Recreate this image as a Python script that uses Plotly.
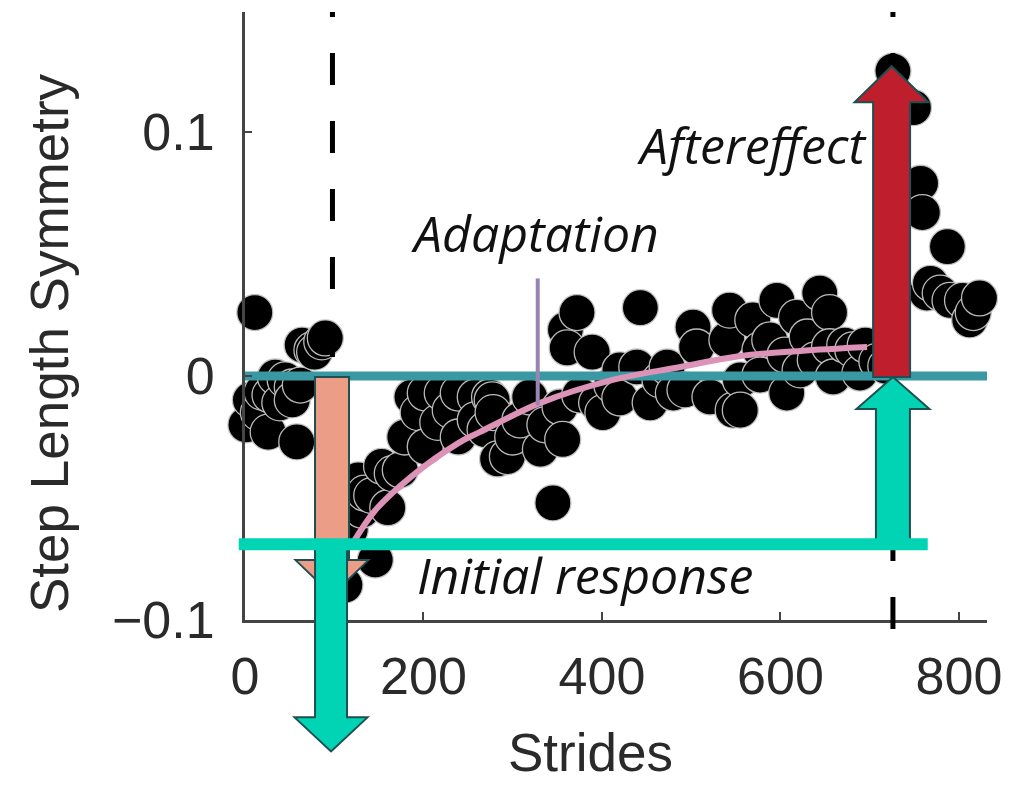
import plotly.graph_objects as go

# ---------------- data ----------------
baseline_strides = [1, 6, 11, 15, 19, 26, 28, 34, 39, 45, 53, 53, 58, 62, 64, 75, 78, 86, 90]
baseline_sym = [-0.020, -0.0098, 0.026, -0.015, -0.0066, -0.023, -0.0078, -0.0004, -0.011, -0.0016,
                -0.0045, -0.0098, -0.027, -0.0037, 0.0127, 0.0107, 0.0098, 0.014, 0.0156]

adapt_strides = [112, 118, 127, 131, 134, 142, 146, 153, 160, 165, 174, 179, 187, 194, 202, 202, 216, 221,
                 230, 239, 239, 258, 258, 269, 274, 277, 278, 283, 294, 300, 308, 319, 331, 336, 345, 353,
                 356, 359, 361, 372, 375, 389, 394, 401, 411, 420, 420, 439, 443, 454, 465, 473, 480, 493,
                 502, 506, 521, 540, 543, 547, 555, 555, 569, 577, 577, 588, 596, 605, 607, 618, 622, 630,
                 639, 644, 655, 655, 659, 672, 681, 689, 695, 708, 718]
adapt_sym = [-0.0857, -0.063, -0.0426, -0.055, -0.048, -0.049, -0.0754, -0.037, -0.054, -0.040, -0.0385,
             -0.025, -0.0086, -0.015, -0.007, -0.029, -0.019, -0.007, -0.014, -0.007, -0.025, -0.0086,
             -0.018, -0.022, -0.0086, -0.0098, -0.015, -0.034, -0.033, -0.025, -0.018, -0.0086, -0.030,
             -0.020, -0.052, -0.0127, -0.026, 0.019, 0.0115, 0.026, -0.0078, 0.0098, -0.011, -0.015,
             -0.0037, 0.0025, -0.009, 0.0037, 0.028, -0.011, -0.0016, 0.0037, -0.007, -0.0057, 0.020,
             0.0119, -0.0086, 0.0148, 0.027, -0.014, -0.0016, -0.014, 0.023, 0.0107, 0.0004, 0.0148,
             0.031, 0.0086, -0.007, 0.024, 0.0025, 0.016, 0.0066, 0.034, 0.026, 0.012, -0.0004, 0.0127,
             0.0107, 0.0012, 0.0127, 0.006, 0.004]

post_strides = [726, 749, 757, 759, 764, 768, 779, 787, 790, 804, 812, 816, 823]
post_sym = [0.125, 0.110, 0.079, 0.067, 0.034, 0.038, 0.034, 0.053, 0.031, 0.031, 0.023, 0.026, 0.032]

fit_strides = [120, 146, 187, 239, 263, 331, 412, 488, 555, 622, 697]
fit_sym = [-0.069, -0.055, -0.041, -0.0275, -0.023, -0.011, -0.0016, 0.0037, 0.0082, 0.0103, 0.0119]

x_tick_vals = [0, 200, 400, 600, 800]
x_tick_text = ["0", "200", "400", "600", "800"]
y_tick_vals = [-0.1, 0, 0.1]
y_tick_text = ["\u22120.1", "0", "0.1"]

phase_boundaries = [98, 726]          # start / end of split-belt adaptation
baseline_level = 0.0
initial_response = -0.069
initial_drop = -0.0898
aftereffect_peak = 0.127
adaptation_marker_stride = 328
adaptation_marker_top = 0.040
adaptation_marker_bottom = -0.012

# ---------------- geometry ----------------
W, H = 1022, 786
X_RANGE = [0, 831.4]
Y_RANGE = [-0.1, 0.1492]
X_DOM = [245 / W, 987 / W]
Y_DOM = [(H - 620) / H, (H - 12) / H]


def full_range(rng, dom):
    s = (rng[1] - rng[0]) / (dom[1] - dom[0])
    return [rng[0] - dom[0] * s, rng[0] + (1 - dom[0]) * s]


X2_RANGE = full_range(X_RANGE, X_DOM)
Y2_RANGE = full_range(Y_RANGE, Y_DOM)
PX_X = W * (X_DOM[1] - X_DOM[0]) / (X_RANGE[1] - X_RANGE[0])   # px per stride
PX_Y = H * (Y_DOM[1] - Y_DOM[0]) / (Y_RANGE[1] - Y_RANGE[0])   # px per unit

EDGE = "#1f4f52"
TEAL = "#00d4b5"
SALMON = "#ec9d86"
RED = "#bf1f2c"
AXIS_C = "#444444"
TXT_C = "#2a2a2a"
DASH = "5px," + ",".join(["36px,32px"] * 12) + ",36px"

fig = go.Figure()

marker = dict(color="black", size=36, line=dict(color="rgba(195,195,195,0.95)", width=1.3))
for xs, ys in [(baseline_strides, baseline_sym), (adapt_strides, adapt_sym), (post_strides, post_sym)]:
    fig.add_trace(go.Scatter(x=xs, y=ys, mode="markers", marker=marker,
                             hoverinfo="skip", showlegend=False, cliponaxis=False))

# baseline level
fig.add_trace(go.Scatter(x=[X_RANGE[0] - 5, X_RANGE[1]], y=[baseline_level] * 2, mode="lines",
                         line=dict(color="#3a98a2", width=9), hoverinfo="skip", showlegend=False))

# exponential fit
fig.add_trace(go.Scatter(x=fit_strides, y=fit_sym, mode="lines",
                         line=dict(color="#dd92b8", width=6, shape="spline"),
                         hoverinfo="skip", showlegend=False))

# adaptation marker
fig.add_trace(go.Scatter(x=[adaptation_marker_stride] * 2,
                         y=[adaptation_marker_top, adaptation_marker_bottom], mode="lines",
                         line=dict(color="#9686b2", width=4), hoverinfo="skip", showlegend=False))

# dashed phase boundaries, on the full-figure overlay axes (not clipped)
for xb, extra_px in [(phase_boundaries[0], 0), (phase_boundaries[1], 9)]:
    fig.add_trace(go.Scatter(
        x=[xb] * 2, y=[Y_RANGE[1], Y_RANGE[0] - extra_px / PX_Y],
        mode="lines", line=dict(color="black", width=5, dash=DASH),
        xaxis="x2", yaxis="y2", hoverinfo="skip", showlegend=False))


def arrow_path(xc, y0, y1, shaft_px, head_px=73, head_len_px=35):
    sw = shaft_px / 2 / PX_X
    hw = head_px / 2 / PX_X
    s = 1 if y1 > y0 else -1
    yb = y1 - s * head_len_px / PX_Y
    pts = [(xc - sw, y0), (xc - sw, yb), (xc - hw, yb), (xc, y1),
           (xc + hw, yb), (xc + sw, yb), (xc + sw, y0)]
    return "M " + " L ".join(f"{x:.4f},{y:.6f}" for x, y in pts) + " Z"


def arrow(xc, y0, y1, fill, shaft_px, head_px=73, head_len_px=35):
    return dict(type="path", path=arrow_path(xc, y0, y1, shaft_px, head_px, head_len_px),
                xref="x2", yref="y2", fillcolor=fill, line=dict(color=EDGE, width=2), layer="above")


shapes = [
    arrow(phase_boundaries[0] - 0.5, baseline_level - 1 / PX_Y, initial_drop, SALMON, 34),
    arrow(phase_boundaries[1] - 1.5, baseline_level - 1 / PX_Y, aftereffect_peak, RED, 37, 74, 36),
    arrow(phase_boundaries[1], initial_response, baseline_level - 1 / PX_Y, TEAL, 34, 73, 32),
    arrow(phase_boundaries[0] - 1.6, initial_response, initial_response - 207 / PX_Y, TEAL, 32, 73, 34),
    dict(type="line", xref="x2", yref="y2", x0=-7, x1=765, y0=initial_response, y1=initial_response,
         line=dict(color=TEAL, width=12), layer="above"),
]

ann_font = dict(family="Open Sans", size=50, color="#111111", style="italic")
annotations = [
    dict(x=325, y=0.0586, xref="x", yref="y", text="Adaptation", showarrow=False,
         font=ann_font, xanchor="center", yanchor="middle"),
    dict(x=381, y=-0.0816, xref="x", yref="y", text="Initial response", showarrow=False,
         font=ann_font, xanchor="center", yanchor="middle"),
    dict(x=567, y=0.0947, xref="x", yref="y", text="Aftereffect", showarrow=False,
         font=ann_font, xanchor="center", yanchor="middle"),
    dict(x=590 / W, y=1 - 752 / H, xref="paper", yref="paper", text="Strides", showarrow=False,
         font=dict(family="Liberation Sans", size=53, color=TXT_C), xanchor="center", yanchor="middle"),
    dict(x=50 / W, y=1 - 343 / H, xref="paper", yref="paper", text="Step Length Symmetry",
         showarrow=False, textangle=-90,
         font=dict(family="Liberation Sans", size=53, color=TXT_C), xanchor="center", yanchor="middle"),
]

tick_font = dict(family="Liberation Sans", size=52, color=TXT_C)
fig.update_layout(
    width=W, height=H, margin=dict(l=0, r=0, t=0, b=0, autoexpand=False),
    paper_bgcolor="white", plot_bgcolor="rgba(0,0,0,0)",
    showlegend=False,
    xaxis=dict(domain=X_DOM, range=X_RANGE, tickvals=x_tick_vals, ticktext=x_tick_text,
               ticks="inside", ticklen=8, tickwidth=2, tickcolor=AXIS_C,
               showline=True, linecolor=AXIS_C, linewidth=3, showgrid=False, zeroline=False,
               tickfont=tick_font, ticklabelstandoff=9, anchor="y", fixedrange=True,
               automargin=False),
    yaxis=dict(domain=Y_DOM, range=Y_RANGE, tickvals=y_tick_vals, ticktext=y_tick_text,
               ticks="inside", ticklen=7, tickwidth=2, tickcolor=AXIS_C,
               showline=True, linecolor=AXIS_C, linewidth=3, showgrid=False, zeroline=False,
               tickfont=tick_font, ticklabelstandoff=17, anchor="x", fixedrange=True,
               automargin=False),
    xaxis2=dict(domain=[0, 1], range=X2_RANGE, visible=False, anchor="y2", fixedrange=True,
                automargin=False, showgrid=False, zeroline=False),
    yaxis2=dict(domain=[0, 1], range=Y2_RANGE, visible=False, anchor="x2", fixedrange=True,
                automargin=False, showgrid=False, zeroline=False),
    shapes=shapes,
    annotations=annotations,
)

fig.write_html("out.html")
